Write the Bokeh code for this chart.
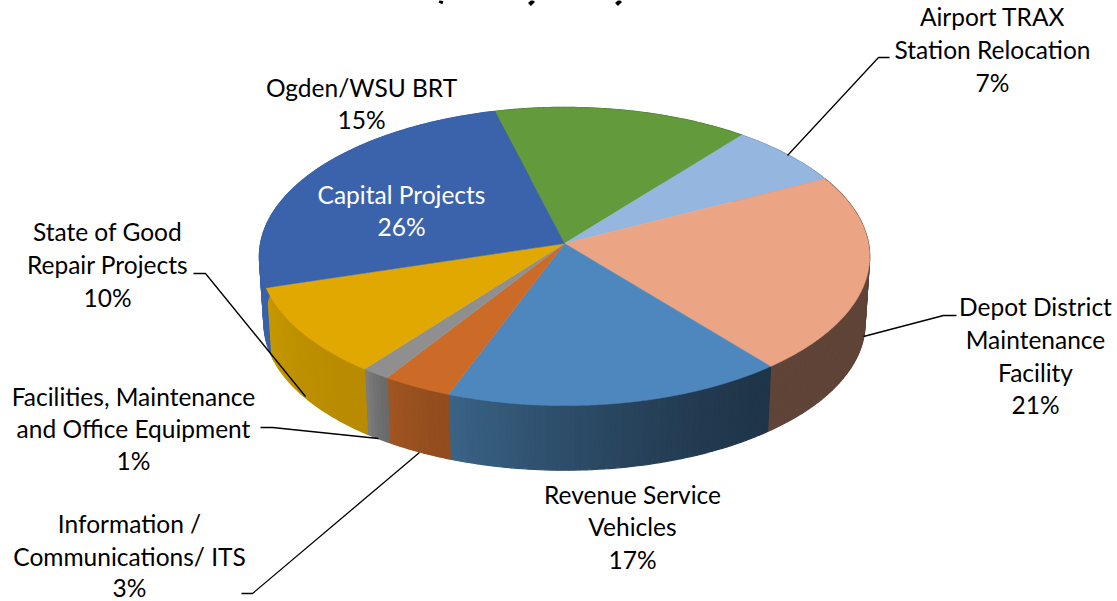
import math
from bokeh.plotting import figure
from bokeh.models import Range1d
from bokeh.core.properties import value
from bokeh.embed import file_html
from bokeh.resources import INLINE

# Data, clockwise from the Capital Projects / Ogden boundary
categories = ["Ogden/WSU BRT", "Airport TRAX Station Relocation", "Depot District Maintenance Facility",
              "Revenue Service Vehicles", "Information / Communications/ ITS",
              "Facilities, Maintenance and Office Equipment", "State of Good Repair Projects", "Capital Projects"]
shares = [14.7, 6.8, 21.6, 16.6, 3.4, 1.4, 9.8, 25.7]

top_colors = ["#629a3c", "#95b6de", "#eba585", "#4d87bd", "#cc6b28", "#8f8f8f", "#e0a800", "#3b63ab"]
wall_from = ["#4a742d", "#708aa8", "#5f4437", "#1f3549", "#924c1e", "#6a6a6a", "#b88b00", "#3a62aa"]
wall_to = ["#4a742d", "#708aa8", "#5f4437", "#3a6386", "#a05522", "#7c7c7c", "#c69800", "#3a62aa"]

START_DEG = -14.4
APEX_X, APEX_Y = 564, 243
A, B, K = 304, 148, 0.087
DEPTH, FLOOR_SCALE = 67, 0.985

label_rows = [
    ("Airport TRAX", 992, 16, "#000000"), ("Station Relocation", 992, 49, "#000000"), ("7%", 992, 82, "#000000"),
    ("Depot District", 1035, 306, "#000000"), ("Maintenance", 1035, 339, "#000000"), ("Facility", 1035, 372, "#000000"), ("21%", 1035, 404, "#000000"),
    ("Revenue Service", 632, 494, "#000000"), ("Vehicles", 632, 526, "#000000"), ("17%", 632, 559, "#000000"),
    ("Capital Projects", 401, 194, "#ffffff"), ("26%", 401, 226, "#ffffff"),
    ("Ogden/WSU BRT", 361, 87, "#000000"), ("15%", 361, 119, "#000000"),
    ("State of Good", 107, 231, "#000000"), ("Repair Projects", 107, 264, "#000000"), ("10%", 107, 297, "#000000"),
    ("Facilities, Maintenance", 133, 396, "#000000"), ("and Office Equipment", 133, 428, "#000000"), ("1%", 133, 460, "#000000"),
    ("Information /", 129, 523, "#000000"), ("Communications/ ITS", 129, 556, "#000000"), ("3%", 129, 587, "#000000"),
]
leaders = [
    ([787, 878, 889], [155, 57, 57]),
    ([863, 943, 956], [336, 315, 315]),
    ([193, 205, 305], [273, 273, 396]),
    ([260, 272, 378], [427, 427, 438]),
    ([241, 252, 419], [593, 593, 452]),
]
title_fragments = [([441, 440], [0, 3]), ([533, 529], [0, 4]), ([620, 616], [0, 4])]


def rim(deg, floor=False):
    t = math.radians(deg)
    u, v = math.sin(t), math.cos(t)
    w = 1 + K * v
    s = FLOOR_SCALE if floor else 1.0
    return APEX_X + s * A * u / w, APEX_Y + (DEPTH if floor else 0) - s * B * v / w


def mix(c1, c2, f):
    a = [int(c1[i:i + 2], 16) for i in (1, 3, 5)]
    b = [int(c2[i:i + 2], 16) for i in (1, 3, 5)]
    return "#%02x%02x%02x" % tuple(round(x + (y - x) * f) for x, y in zip(a, b))


p = figure(width=1117, height=601, output_backend="svg", toolbar_location=None,
           x_range=Range1d(0, 1117), y_range=Range1d(601, 0), min_border=0,
           outline_line_color=None, background_fill_color="white")
p.xaxis.visible = False
p.yaxis.visible = False
p.grid.visible = False

edges = [START_DEG]
for s in shares:
    edges.append(edges[-1] + s * 3.6)

# side walls in narrow strips to carry the shading
for i in range(len(shares)):
    a0, a1 = edges[i], edges[i + 1]
    n = max(6, int(a1 - a0))
    for j in range(n):
        b0 = a0 + (a1 - a0) * j / n
        b1 = a0 + (a1 - a0) * (j + 1) / n
        pts_top = [rim(b0), rim(b1)]
        pts_bot = [rim(b1, True), rim(b0, True)]
        xs = [q[0] for q in pts_top + pts_bot]
        ys = [q[1] for q in pts_top + pts_bot]
        c = mix(wall_from[i], wall_to[i], (j / max(1, n - 1)) ** 1.5)
        p.patch(xs, ys, fill_color=c, line_color=c, line_width=1.2)

# top faces
for i in range(len(shares)):
    a0, a1 = edges[i], edges[i + 1]
    n = max(3, int((a1 - a0) * 2))
    pts = [rim(a0 + (a1 - a0) * j / n) for j in range(n + 1)]
    xs = [APEX_X] + [q[0] for q in pts]
    ys = [APEX_Y] + [q[1] for q in pts]
    p.patch(xs, ys, fill_color=top_colors[i], line_color=top_colors[i], line_width=0.5)

for xs, ys in leaders:
    p.line(xs, ys, line_color="#000000", line_width=1.3)
for xs, ys in title_fragments:
    p.line(xs, ys, line_color="#000000", line_width=4)

p.text(x=[r[1] for r in label_rows], y=[r[2] for r in label_rows], text=[r[0] for r in label_rows],
       text_color=[r[3] for r in label_rows], text_font=value("Lato"), text_font_size="24.5px",
       text_align="center", text_baseline="middle")

open("out.html", "w").write(file_html(p, INLINE))
